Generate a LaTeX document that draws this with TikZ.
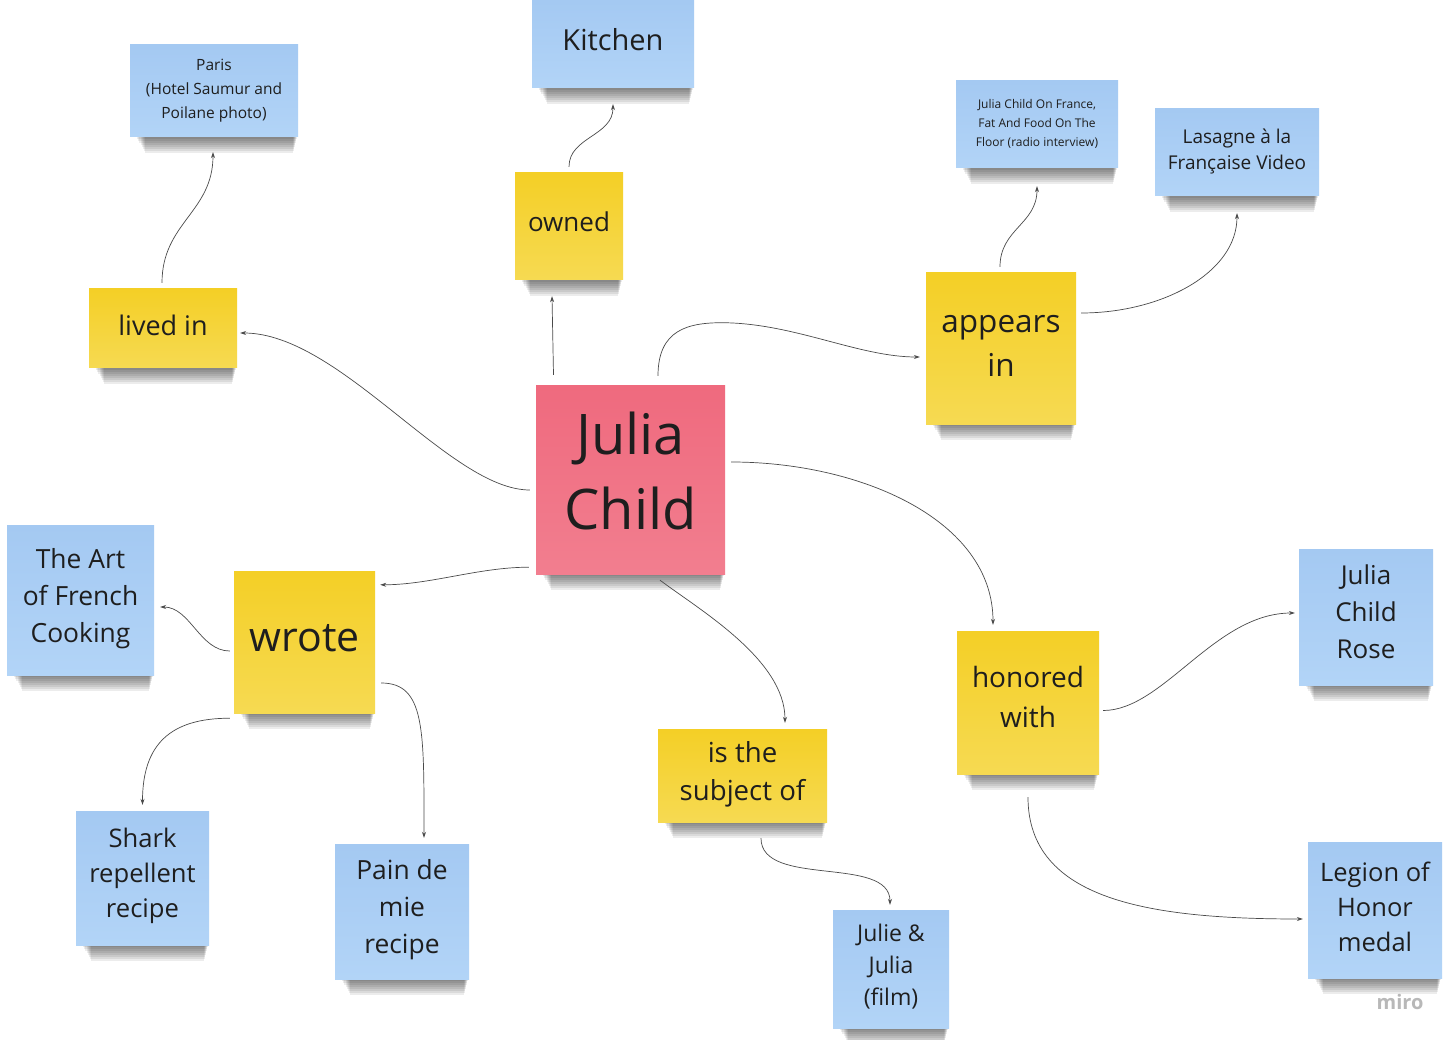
\documentclass[tikz,border=0pt]{standalone}
\usepackage{fontspec}
\setmainfont{Open Sans}
\usetikzlibrary{calc,arrows.meta,backgrounds}
\definecolor{yelT}{HTML}{F4CF26}
\definecolor{yelB}{HTML}{F6DA52}
\definecolor{bluT}{HTML}{A4C9F2}
\definecolor{bluB}{HTML}{B2D4F7}
\definecolor{pinT}{HTML}{EF6A7E}
\definecolor{pinB}{HTML}{F27E8F}
\definecolor{txt}{HTML}{1E1E1E}
\definecolor{lineC}{HTML}{4A4A4A}
\definecolor{miroC}{HTML}{B8B8B8}
\newcommand\fz[2]{\fontsize{#1pt}{#2pt}\selectfont}
\tikzset{
  sticky/.style={inner sep=0pt},
  yel/.style={sticky, top color=yelT, bottom color=yelB},
  blu/.style={sticky, top color=bluT, bottom color=bluB},
  pnk/.style={sticky, top color=pinT, bottom color=pinB},
  lbl/.style={inner sep=0pt, align=center, text=txt},
  shadowlayer/.style={fill=black, fill opacity=0.075, draw=none},
  conn/.style={draw=lineC, line width=0.7pt, -{Stealth[length=6pt,width=4pt]}},
}
\begin{document}
\begin{tikzpicture}[x=1pt,y=-1pt]
\useasboundingbox (0,0) rectangle (1456,1040);

% sticky notes
\node[pnk, minimum width=189pt, minimum height=189pt] (jc) at (630.5,479.5) {};
\node[blu, minimum width=168pt, minimum height=92pt] (paris) at (214,91) {};
\node[blu, minimum width=162pt, minimum height=87pt] (kitchen) at (613,44.5) {};
\node[yel, minimum width=108pt, minimum height=107pt] (owned) at (569,226.5) {};
\node[yel, minimum width=148pt, minimum height=79pt] (lived) at (163,328.5) {};
\node[yel, minimum width=150pt, minimum height=151pt] (appears) at (1001,348.5) {};
\node[blu, minimum width=162pt, minimum height=87pt] (jcf) at (1037,124.5) {};
\node[blu, minimum width=164pt, minimum height=87pt] (lasagne) at (1237,152.5) {};
\node[blu, minimum width=147pt, minimum height=150pt] (art) at (80.5,600) {};
\node[yel, minimum width=141pt, minimum height=142pt] (wrote) at (304.5,642) {};
\node[blu, minimum width=133pt, minimum height=134pt] (shark) at (142.5,878) {};
\node[blu, minimum width=134pt, minimum height=135pt] (pain) at (402,911.5) {};
\node[yel, minimum width=169pt, minimum height=93pt] (subj) at (742.5,775.5) {};
\node[yel, minimum width=142pt, minimum height=143pt] (honored) at (1028,702.5) {};
\node[blu, minimum width=134pt, minimum height=136pt] (rose) at (1366,617) {};
\node[blu, minimum width=134pt, minimum height=136pt] (legion) at (1375,910) {};
\node[blu, minimum width=116pt, minimum height=118pt] (julie) at (891,969) {};

% soft shadows under the notes
\begin{pgfonlayer}{background}
\fill[white] (0,0) rectangle (1456,1040);
\foreach \n in {jc,paris,kitchen,owned,lived,appears,jcf,lasagne,art,wrote,shark,pain,subj,honored,rose,legion,julie}{
  \foreach \k in {2,4,...,16}{
    \path[shadowlayer]
      ($(\n.south west)+(6+0.6*\k,-2)$) rectangle ($(\n.south east)+(-1-0.25*\k,\k)$);
  }
}
\end{pgfonlayer}

% texts
\node[lbl, font=\fz{56}{75}] (jct) at ($(jc)+(0,-9)$) {Julia\\Child};
\node[lbl, font=\fz{15.5}{24}] (parist) at (paris) {Paris\\(Hotel Saumur and\\Poilane photo)};
\node[lbl, font=\fz{29}{36}] (kitchent) at ($(kitchen)+(0,-5)$) {Kitchen};
\node[lbl, font=\fz{26}{34}] (ownedt) at ($(owned)+(0,-5)$) {owned};
\node[lbl, font=\fz{27}{34}] (livedt) at ($(lived)+(0,-3)$) {lived in};
\node[lbl, font=\fz{31.5}{44}] (appearst) at ($(appears)+(0,-3)$) {appears\\in};
\node[lbl, font=\fz{12}{19}] (jcft) at ($(jcf)+(0,-1)$) {Julia Child On France,\\Fat And Food On The\\Floor (radio interview)};
\node[lbl, font=\fz{19}{26}] (lasagnet) at ($(lasagne)+(0,-1)$) {Lasagne à la\\Française Video};
\node[lbl, font=\fz{26.4}{37}] (artt) at ($(art)+(0,-1)$) {The Art\\of French\\Cooking};
\node[lbl, font=\fz{41}{50}] (wrotet) at ($(wrote)+(0,-4)$) {wrote};
\node[lbl, font=\fz{25.6}{35}] (sharkt) at ($(shark)+(0,-2)$) {Shark\\repellent\\recipe};
\node[lbl, font=\fz{26.4}{37}] (paint) at ($(pain)+(0,-1.5)$) {Pain de\\mie\\recipe};
\node[lbl, font=\fz{27.6}{38}] (subjt) at ($(subj)+(0,-1)$) {is the\\subject of};
\node[lbl, font=\fz{28}{40}] (honoredt) at ($(honored)+(0,-6)$) {honored\\with};
\node[lbl, font=\fz{26}{37}] (roset) at ($(rose)+(0,-5)$) {Julia\\Child\\Rose};
\node[lbl, font=\fz{25.5}{35}] (legiont) at ($(legion)+(0,-3.5)$) {Legion of\\Honor\\medal};
\node[lbl, font=\fz{23}{32}] (juliet) at ($(julie)+(0,-2)$) {Julie \&\\Julia\\(film)};
\node[text=miroC, font=\bfseries\fz{20}{24}] (miro) at (1400,1002) {miro};

% connectors
\draw[conn] ($(jc.north)+(-77,-10)$) -- ($(owned.south)+(-17,16)$);
\draw[conn] ($(owned.north)+(0,-6)$) .. controls +(0,-30) and +(0,32) .. ($(kitchen.south)+(0,16)$);
\draw[conn] ($(jc.west)+(-6,10.5)$) .. controls +(-80,0) and +(100,0) .. ($(lived.east)+(3,4.5)$);
\draw[conn] ($(lived.north)+(-1,-6)$) .. controls +(0,-60) and +(0,60) .. ($(paris.south)+(-1,15)$);
\coordinate (apmid) at ($(jc.north)+(97,-62)$);
\draw[conn] ($(jc.north)+(27.5,-9)$) .. controls +(0,-46) and +(-40,-1) .. (apmid)
   .. controls +(70,2) and +(-60,0) .. ($(appears.west)+(-6,8.5)$);
\draw[conn] ($(appears.north)+(-1,-6)$) .. controls +(0,-38) and +(0,38) .. ($(jcf.south)+(0,18)$);
\draw[conn] ($(appears.east)+(5,-35.5)$) .. controls +(80,0) and +(0,60) .. ($(lasagne.south)+(0,17)$);
\draw[conn] ($(jc.east)+(6,-17.5)$) .. controls +(129,0) and +(0,-105) .. ($(honored.north)+(-35,-6)$);
\draw[conn] ($(jc.south)+(29.5,6)$) .. controls +(40,30) and +(0,-63) .. ($(subj.north)+(42.5,-6)$);
\draw[conn] ($(subj.south)+(18.5,16)$) .. controls +(0,50) and +(0,-50) .. ($(julie.north)+(-1,-5)$);
\draw[conn] ($(honored.east)+(4,8)$) .. controls +(60,0) and +(-80,0) .. ($(rose.west)+(-4,-4)$);
\draw[conn] ($(honored.south)+(0,23)$) .. controls +(0,103) and +(-153,0) .. ($(legion.west)+(-5,9)$);
\draw[conn] ($(jc.south west)+(-7,-7)$) .. controls +(-50,0) and +(50,0) .. ($(wrote.north east)+(5,14)$);
\draw[conn] ($(wrote.west)+(-4,9)$) .. controls +(-30,0) and +(30,0) .. ($(art.east)+(6,7)$);
\draw[conn] ($(wrote.south west)+(-4,5)$) .. controls +(-60,0) and +(0,-60) .. ($(shark.north)+(0,-6)$);
\draw[conn] ($(wrote.east)+(6,41)$) .. controls +(44,0) and +(0,-108) .. ($(pain.north)+(22,-6)$);
\end{tikzpicture}
\end{document}
